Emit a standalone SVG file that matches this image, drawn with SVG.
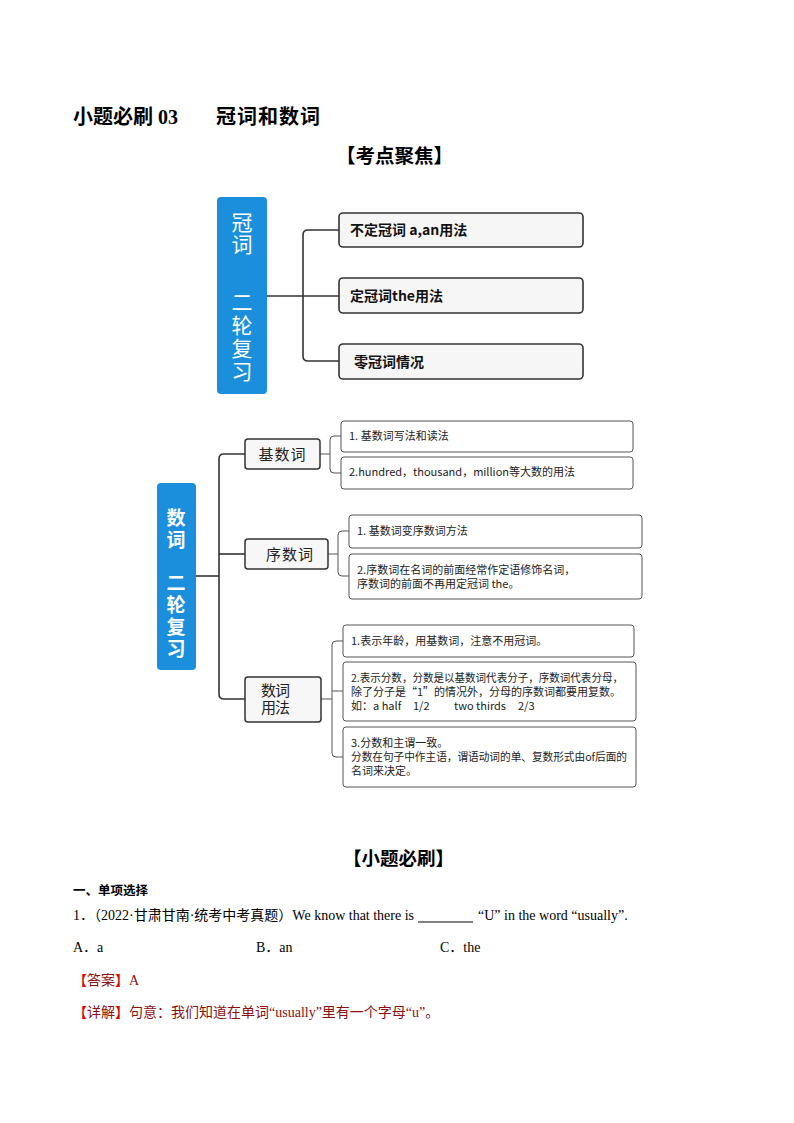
<svg xmlns="http://www.w3.org/2000/svg" width="794" height="1123" viewBox="0 0 794 1123">
<style>
.blue{fill:#1b8fdc}
.btxt{fill:#fff;font-family:"Noto Sans CJK SC",sans-serif;text-anchor:middle}
.topbox{fill:#f6f6f6;stroke:#333;stroke-width:1.6}
.node{fill:#f7f7f7;stroke:#333;stroke-width:1.5}
.sub{fill:#fff;stroke:#555;stroke-width:1}
.conn{fill:none;stroke:#333;stroke-width:1.6}
.conn2{fill:none;stroke:#555;stroke-width:1}
.tb{font-family:"Noto Sans CJK SC",sans-serif;font-weight:bold;font-size:14px;fill:#111}
.st{font-family:"Noto Sans CJK SC","Noto Sans",sans-serif;font-size:11px;fill:#222}
.nt{font-family:"Noto Sans CJK SC",sans-serif;font-size:15px;fill:#222}
.red{fill:#e00000}
.dred{fill:#8b1010}
</style>
<rect width="794" height="1123" fill="#fff"/>

<g id="title">
<text x="73" y="124" font-family="Liberation Serif,Noto Sans CJK SC,serif" font-weight="bold" font-size="20" fill="#000">小题必刷 03</text>
<text x="216" y="124" font-family="Noto Sans CJK SC,sans-serif" font-weight="bold" font-size="20" fill="#000" letter-spacing="1">冠词和数词</text>
<text x="336" y="163" font-family="Noto Sans CJK SC,sans-serif" font-weight="bold" font-size="19.5" fill="#000">【考点聚焦】</text>
</g>

<g id="connectors">
<path class="conn" d="M267,296 H339"/>
<path class="conn" d="M339,230 H308 Q303,230 303,235 V356 Q303,361 308,361 H339"/>
<path class="conn" d="M196,576 H219"/>
<path class="conn" d="M245,454 H224 Q219,454 219,459 V694 Q219,699 224,699 H245"/>
<path class="conn" d="M219,554 H245"/>
<path class="conn2" d="M320,454 H330"/>
<path class="conn2" d="M341,436 H334 Q330,436 330,440 V469 Q330,473 334,473 H341"/>
<path class="conn2" d="M328,554 H338"/>
<path class="conn2" d="M349,531 H342 Q338,531 338,535 V572 Q338,576 342,576 H349"/>
<path class="conn2" d="M321,699 H332"/>
<path class="conn2" d="M343,641 H336 Q332,641 332,645 V753 Q332,757 336,757 H343"/>
<path class="conn2" d="M332,691 H343"/>
</g>

<g id="guanci-root">
<rect class="blue" x="217" y="197" width="50" height="197" rx="4"/>
<text class="btxt" font-size="21" x="242" y="230">冠</text>
<text class="btxt" font-size="21" x="242" y="252">词</text>
<text class="btxt" font-size="21" x="242" y="310">二</text>
<text class="btxt" font-size="21" x="242" y="333">轮</text>
<text class="btxt" font-size="21" x="242" y="356">复</text>
<text class="btxt" font-size="21" x="242" y="379">习</text>
</g>
<g id="guanci-1">
<rect class="topbox" x="339" y="213" width="244" height="34" rx="4"/>
<text class="tb" x="350" y="235">不定冠词 a,an用法</text>
</g>
<g id="guanci-2">
<rect class="topbox" x="339" y="278" width="244" height="35" rx="4"/>
<text class="tb" x="350" y="301">定冠词the用法</text>
</g>
<g id="guanci-3">
<rect class="topbox" x="339" y="344" width="244" height="35" rx="4"/>
<text class="tb" x="354" y="367">零冠词情况</text>
</g>

<g id="shuci-root">
<rect class="blue" x="157" y="483" width="39" height="187" rx="4"/>
<text class="btxt" font-size="19" font-weight="bold" x="176" y="525">数</text>
<text class="btxt" font-size="19" font-weight="bold" x="176" y="547">词</text>
<text class="btxt" font-size="19" font-weight="bold" x="176" y="590">二</text>
<text class="btxt" font-size="19" font-weight="bold" x="176" y="612">轮</text>
<text class="btxt" font-size="19" font-weight="bold" x="176" y="634">复</text>
<text class="btxt" font-size="19" font-weight="bold" x="176" y="656">习</text>
</g>

<g id="jishuci">
<rect class="node" x="245" y="439" width="75" height="30" rx="3"/>
<text class="nt" x="282.5" y="460" text-anchor="middle" letter-spacing="1">基数词</text>
</g>
<g id="jishuci-1">
<rect class="sub" x="341" y="421" width="292" height="31" rx="3"/>
<text class="st" x="349" y="440">1. 基数词写法和读法</text>
</g>
<g id="jishuci-2">
<rect class="sub" x="341" y="457" width="292" height="32" rx="3"/>
<text class="st" x="349" y="476">2.hundred，thousand，million等大数的用法</text>
</g>

<g id="xushuci">
<rect class="node" x="245" y="539" width="83" height="30" rx="3"/>
<text class="nt" x="290" y="560" text-anchor="middle" letter-spacing="1">序数词</text>
</g>
<g id="xushuci-1">
<rect class="sub" x="349" y="515" width="293" height="33" rx="3"/>
<text class="st" x="357" y="535">1. 基数词变序数词方法</text>
</g>
<g id="xushuci-2">
<rect class="sub" x="349" y="554" width="293" height="45" rx="3"/>
<text class="st" x="357" y="574">2.序数词在名词的前面经常作定语修饰名词，</text>
<text class="st" x="357" y="588">序数词的前面不再用定冠词 the。</text>
</g>

<g id="shuciyongfa">
<rect class="node" x="245" y="677" width="76" height="45" rx="3"/>
<text class="nt" x="261" y="696" letter-spacing="-1">数词</text>
<text class="nt" x="261" y="713" letter-spacing="-1">用法</text>
</g>
<g id="yongfa-1">
<rect class="sub" x="343" y="625" width="291" height="32" rx="3"/>
<text class="st" x="351" y="645">1.表示年龄，用基数词，注意不用冠词。</text>
</g>
<g id="yongfa-2">
<rect class="sub" x="343" y="662" width="293" height="59" rx="3"/>
<text class="st" x="351" y="682" textLength="272" lengthAdjust="spacingAndGlyphs">2.表示分数，分数是以基数词代表分子，序数词代表分母，</text>
<text class="st" x="351" y="696">除了分子是“1”的情况外，分母的序数词都要用复数。</text>
<text class="st" y="710"><tspan x="351">如：a half</tspan><tspan x="413">1/2</tspan><tspan x="454">two thirds</tspan><tspan x="518">2/3</tspan></text>
</g>
<g id="yongfa-3">
<rect class="sub" x="343" y="727" width="293" height="60" rx="3"/>
<text class="st" x="351" y="747">3.分数和主谓一致。</text>
<text class="st" x="351" y="761" textLength="276" lengthAdjust="spacingAndGlyphs">分数在句子中作主语，谓语动词的单、复数形式由of后面的</text>
<text class="st" x="351" y="775">名词来决定。</text>
</g>

<g id="practice">
<text x="343" y="865" font-family="Noto Sans CJK SC,sans-serif" font-weight="bold" font-size="18.5" fill="#000">【小题必刷】</text>
<text x="73" y="895" font-family="Noto Sans CJK SC,sans-serif" font-weight="bold" font-size="12.5" fill="#000">一、单项选择</text>
<text x="73" y="920" font-family="Liberation Serif,Noto Sans CJK SC,serif" font-size="14" fill="#000">1．（2022·甘肃甘南·统考中考真题）We know that there is <tspan x="478">“U” in the word “usually”.</tspan></text>
<line x1="418" y1="922" x2="473" y2="922" stroke="#000" stroke-width="1"/>
<text y="952" font-family="Liberation Serif,Noto Sans CJK SC,serif" font-size="14" fill="#000"><tspan x="73">A．a</tspan><tspan x="256">B．an</tspan><tspan x="440">C．the</tspan></text>
<text x="73" y="985" font-family="Liberation Serif,Noto Sans CJK SC,serif" font-size="14"><tspan class="red">【</tspan><tspan class="dred">答案</tspan><tspan class="red">】</tspan><tspan class="dred">A</tspan></text>
<text x="73" y="1017" font-family="Liberation Serif,Noto Sans CJK SC,serif" font-size="14"><tspan class="red">【</tspan><tspan class="dred">详解</tspan><tspan class="red">】</tspan><tspan class="dred">句意：我们知道在单词“usually”里有一个字母“u”。</tspan></text>
</g>
</svg>
